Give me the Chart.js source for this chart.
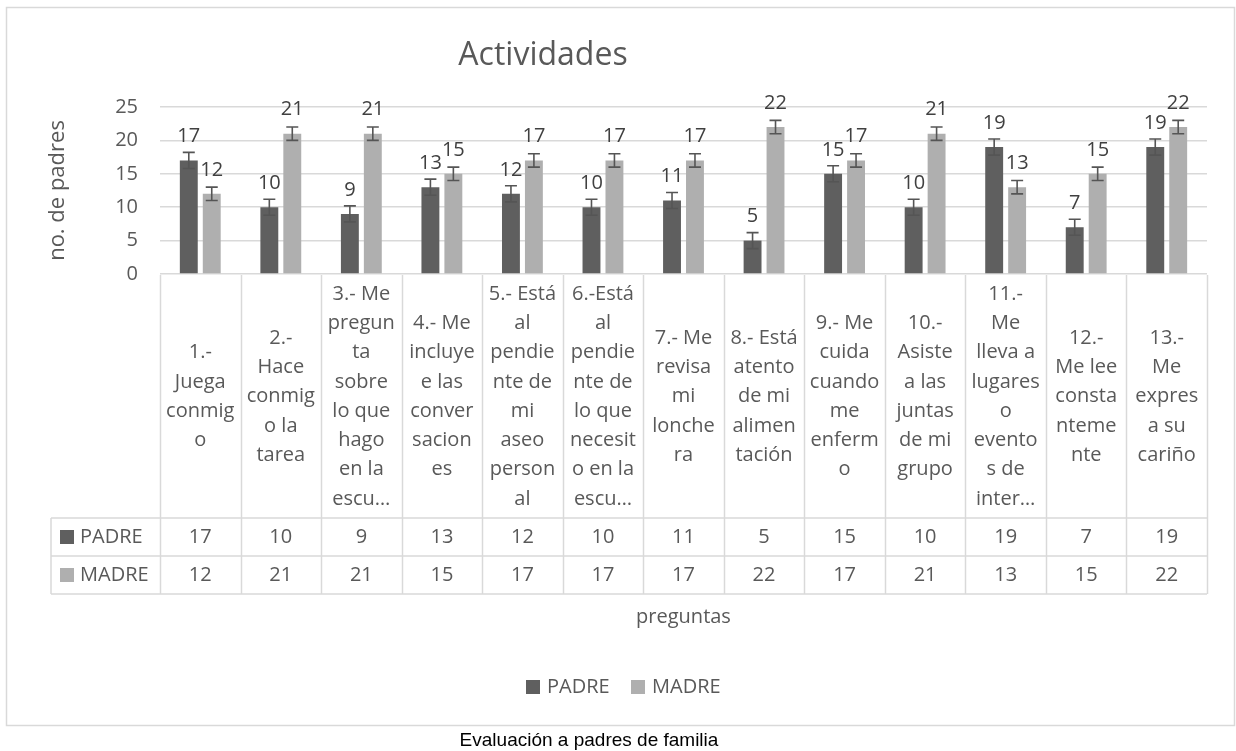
<!DOCTYPE html>
<html><head><meta charset="utf-8">
<script src="https://cdn.jsdelivr.net/npm/chart.js@4"></script>
<style>html,body{margin:0;padding:0;background:#fff;overflow:hidden}</style>
</head><body>
<canvas id="c" width="1236" height="751"></canvas>
<script>
const chartTitle = "Actividades";
const yTitle = "no. de padres";
const xTitle = "preguntas";
const caption = "Evaluación a padres de familia";
const seriesNames = ["PADRE", "MADRE"];
const categories = [
  ["1.-","Juega","conmig","o"],
  ["2.-","Hace","conmig","o la","tarea"],
  ["3.- Me","pregun","ta","sobre","lo que","hago","en la","escu…"],
  ["4.- Me","incluye","e las","conver","sacion","es"],
  ["5.- Está","al","pendie","nte de","mi","aseo","person","al"],
  ["6.-Está","al","pendie","nte de","lo que","necesit","o en la","escu…"],
  ["7.- Me","revisa","mi","lonche","ra"],
  ["8.- Está","atento","de mi","alimen","tación"],
  ["9.- Me","cuida","cuando","me","enferm","o"],
  ["10.-","Asiste","a las","juntas","de mi","grupo"],
  ["11.-","Me","lleva a","lugares","o","evento","s de","inter…"],
  ["12.-","Me lee","consta","nteme","nte"],
  ["13.-","Me","expres","a su","cariño"]
];
const padreValues = [17,10,9,13,12,10,11,5,15,10,19,7,19];
const madreValues = [12,21,21,15,17,17,17,22,17,21,13,15,22];
const padreError = [1.2,1.2,1.2,1.2,1.2,1.2,1.2,1.2,1.2,1.2,1.2,1.2,1.2];
const madreError = [1.0,1.0,1.0,1.0,1.0,1.0,1.0,1.0,1.0,1.0,1.0,1.0,1.0];
const yTickValues = [0,5,10,15,20,25];

const colors = ["#5f5f5f", "#afafaf"];
const textCol = "#595959";
const lineCol = "#d9d9d9";
const FONT = "'Open Sans', 'Noto Sans', sans-serif";

const extras = {
  id: 'extras',
  beforeDraw(chart) {
    const ctx = chart.ctx;
    ctx.save();
    ctx.fillStyle = '#fff';
    ctx.fillRect(0, 0, chart.width, chart.height);
    ctx.restore();
  },
  afterDraw(chart) {
    const ctx = chart.ctx;
    const xs = chart.scales.x, ys = chart.scales.y;
    const n = chart.data.labels.length;
    const cw = (xs.right - xs.left) / n;
    ctx.save();
    // outer border
    ctx.strokeStyle = lineCol; ctx.lineWidth = 1.5;
    ctx.strokeRect(6.5, 7.5, 1228, 718);
    // title
    ctx.fillStyle = textCol;
    ctx.font = "32px " + FONT;
    ctx.textAlign = 'center'; ctx.textBaseline = 'middle';
    ctx.fillText(chartTitle, 543, 56);

    // error bars and data labels
    chart.data.datasets.forEach((ds, di) => {
      const meta = chart.getDatasetMeta(di);
      meta.data.forEach((bar, i) => {
        const v = ds.data[i], e = ds.errorValues[i];
        const yt = ys.getPixelForValue(v + e), yb = ys.getPixelForValue(v - e);
        ctx.strokeStyle = '#555'; ctx.lineWidth = 1.6;
        ctx.beginPath();
        ctx.moveTo(bar.x, yt); ctx.lineTo(bar.x, yb);
        ctx.moveTo(bar.x - 6, yt); ctx.lineTo(bar.x + 6, yt);
        ctx.moveTo(bar.x - 6, yb); ctx.lineTo(bar.x + 6, yb);
        ctx.stroke();
        ctx.fillStyle = '#404040';
        ctx.font = "20px " + FONT;
        ctx.textAlign = 'center'; ctx.textBaseline = 'middle';
        ctx.fillText(String(v), bar.x, bar.y - 24);
      });
    });

    // data table
    const top = ys.getPixelForValue(0) + 1;
    const catBottom = 518, row1 = 556, row2 = 594, hdrLeft = 51;
    ctx.strokeStyle = lineCol; ctx.lineWidth = 1.5;
    ctx.beginPath();
    for (let i = 0; i <= n; i++) {
      const bx = Math.round(xs.left + i * cw) + 0.5;
      ctx.moveTo(bx, top); ctx.lineTo(bx, row2);
    }
    ctx.moveTo(hdrLeft, catBottom); ctx.lineTo(xs.right, catBottom);
    ctx.moveTo(hdrLeft, row1); ctx.lineTo(xs.right, row1);
    ctx.moveTo(hdrLeft, row2); ctx.lineTo(xs.right, row2);
    ctx.moveTo(hdrLeft, catBottom); ctx.lineTo(hdrLeft, row2);
    ctx.stroke();

    ctx.fillStyle = textCol;
    ctx.font = "20px " + FONT;
    ctx.textAlign = 'center'; ctx.textBaseline = 'middle';
    const lh = 29.3;
    chart.data.labels.forEach((lines, i) => {
      const cx = xs.getPixelForValue(i);
      const mid = (top + catBottom) / 2;
      const y0 = mid - (lines.length - 1) * lh / 2;
      lines.forEach((t, k) => ctx.fillText(t, cx, y0 + k * lh));
    });
    const rowsY = [(catBottom + row1) / 2, (row1 + row2) / 2];
    chart.data.datasets.forEach((ds, di) => {
      ctx.fillStyle = textCol;
      ds.data.forEach((v, i) => ctx.fillText(String(v), xs.getPixelForValue(i), rowsY[di]));
      ctx.fillStyle = ds.backgroundColor;
      ctx.fillRect(60, rowsY[di] - 7, 14, 14);
      ctx.fillStyle = textCol;
      ctx.textAlign = 'left';
      ctx.fillText(ds.label, 80, rowsY[di]);
      ctx.textAlign = 'center';
    });

    // x axis title
    ctx.fillText(xTitle, (xs.left + xs.right) / 2, 617);

    // legend
    ctx.textAlign = 'left';
    const legX = [526, 631];
    chart.data.datasets.forEach((ds, di) => {
      ctx.fillStyle = ds.backgroundColor;
      ctx.fillRect(legX[di], 680, 14, 14);
      ctx.fillStyle = textCol;
      ctx.fillText(ds.label, legX[di] + 21, 687);
    });

    // caption
    ctx.fillStyle = '#000';
    ctx.font = "19px 'Liberation Sans', Arial, sans-serif";
    ctx.textAlign = 'center';
    ctx.fillText(caption, 589, 741);
    ctx.restore();
  }
};

new Chart(document.getElementById('c'), {
  type: 'bar',
  data: {
    labels: categories,
    datasets: [
      { label: seriesNames[0], data: padreValues, errorValues: padreError, backgroundColor: colors[0],
        categoryPercentage: 0.57, barPercentage: 0.78 },
      { label: seriesNames[1], data: madreValues, errorValues: madreError, backgroundColor: colors[1],
        categoryPercentage: 0.57, barPercentage: 0.78 }
    ]
  },
  options: {
    responsive: false,
    animation: false,
    devicePixelRatio: 1,
    layout: { padding: { left: 40, right: 29, top: 107, bottom: 477 } },
    plugins: { legend: { display: false }, title: { display: false }, tooltip: { enabled: false } },
    scales: {
      x: {
        display: true,
        ticks: { display: false },
        grid: { display: false, drawTicks: false },
        border: { display: false },
        afterFit(s) { s.height = 0; }
      },
      y: {
        min: 0, max: 25,
        afterBuildTicks(s) { s.ticks = yTickValues.map(v => ({ value: v })); },
        ticks: { color: textCol, font: { family: FONT, size: 20 }, padding: 22 },
        grid: { color: lineCol, lineWidth: 1.5, drawTicks: false },
        border: { display: false },
        title: { display: true, text: yTitle, color: textCol, font: { family: FONT, size: 22 }, padding: { top: 5, bottom: 0 } },
        afterFit(s) { s.width = 120; }
      }
    }
  },
  plugins: [extras]
});
</script>
</body></html>
